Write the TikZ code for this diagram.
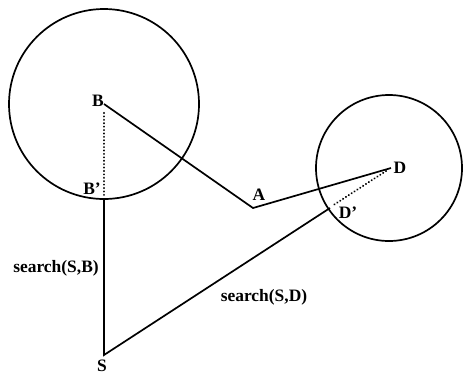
\documentclass[tikz,border=0pt]{standalone}
\usepackage{fontspec}
\setmainfont{Liberation Serif}
\begin{document}
\begin{tikzpicture}[x=1bp,y=-1bp,
  lab/.style={font=\bfseries\fontsize{17.5}{19}\selectfont, inner sep=0pt},
  edge/.style={line width=1.7bp},
  dotline/.style={line width=2.2bp, dash pattern=on 0.01bp off 3.4bp, line cap=round}]
\useasboundingbox (0,0) rectangle (464,374);
% points
\coordinate (B) at (104,104);
\coordinate (Bp) at (104,198);
\coordinate (S) at (104,355);
\coordinate (A) at (253,208);
\coordinate (D) at (391,168);
\coordinate (Dp) at (330,208);
\coordinate (Ds) at (389,168);
% circles
\draw[edge] (104,104) circle (95);
\draw[edge] (Ds) circle (73);
% solid lines
\draw[edge] (B) -- (A) -- (D);
\draw[edge] (Bp) -- (S) -- (Dp);
% dotted
\draw[dotline] (104,113) -- (104,196);
\draw[dotline] (386,171) -- (332,206);
% labels
\node[lab] (lB) at (98,101) {B};
\node[lab] (lBp) at (92,189) {B’};
\node[lab] (lA) at (259,195) {A};
\node[lab] (lD) at (400,168) {D};
\node[lab] (lDp) at (348,213) {D’};
\node[lab] (lS) at (102,366) {S};
\node[lab] (lsb) at (56,268) {search(S,B)};
\node[lab] (lsd) at (264,297) {search(S,D)};
\end{tikzpicture}
\end{document}
